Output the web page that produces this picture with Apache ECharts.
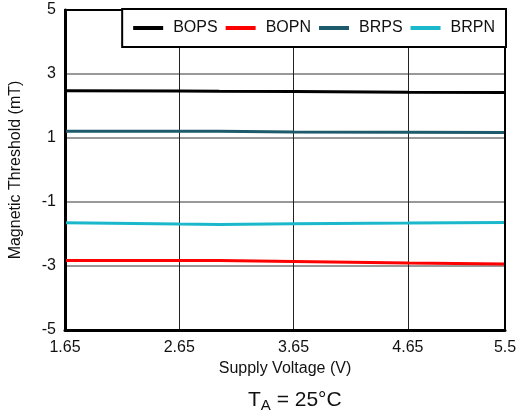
<!DOCTYPE html>
<html>
<head>
<meta charset="utf-8">
<script src="https://cdn.jsdelivr.net/npm/echarts@6/dist/echarts.min.js"></script>
<style>
html,body{margin:0;padding:0;background:#fff;}
#c{width:523px;height:416px;}
</style>
</head>
<body>
<div id="c"></div>
<script>
const voltage = [1.65, 2.65, 3.0, 3.65, 4.65, 5.5];
const xTicks = [1.65, 2.65, 3.65, 4.65, 5.5];
const seriesNames = ['BOPS', 'BOPN', 'BRPS', 'BRPN'];
const bops = [2.48, 2.47, 2.46, 2.45, 2.43, 2.42];
const bopn = [-2.83, -2.83, -2.83, -2.86, -2.91, -2.94];
const brps = [1.21, 1.21, 1.21, 1.19, 1.18, 1.17];
const brpn = [-1.65, -1.69, -1.70, -1.68, -1.66, -1.64];
const colors = ['#000000', '#ff0000', '#1d5a6b', '#1bb8cb'];

const values = [bops, bopn, brps, brpn];
const font = 'Liberation Sans, Arial, sans-serif';

const chart = echarts.init(document.getElementById('c'));
chart.setOption({
  animation: false,
  backgroundColor: '#fff',
  grid: { left: 65, right: 18, top: 10, bottom: 86, show: true, borderColor: '#000', borderWidth: 2, z: 5 },
  title: {
    text: '{t|T}{s|A}{t| = 25°C}',
    left: 243, top: 383,
    textStyle: {
      fontWeight: 'normal',
      rich: {
        t: { fontSize: 21, fontFamily: font, color: '#111', fontWeight: 'normal' },
        s: { fontSize: 15, fontFamily: font, color: '#111', fontWeight: 'normal', verticalAlign: 'bottom', padding: [10, 0, 0, 0] }
      }
    }
  },
  legend: {
    data: seriesNames,
    right: 17, top: 9,
    orient: 'horizontal',
    icon: 'rect',
    itemWidth: 30, itemHeight: 4, itemGap: 8,
    padding: [11, 11, 11, 11],
    backgroundColor: '#fff',
    borderColor: '#000', borderWidth: 2,
    textStyle: { fontSize: 16, fontFamily: font, color: '#111', lineHeight: 16, padding: [0, 0, 0, 5] },
    z: 10
  },
  xAxis: {
    type: 'value', min: 1.65, max: 5.5,
    name: 'Supply Voltage (V)', nameLocation: 'middle', nameGap: 30,
    nameTextStyle: { fontSize: 16, fontFamily: font, color: '#111' },
    axisLine: { show: true, onZero: false, lineStyle: { color: '#000', width: 3 } },
    axisTick: { show: false, customValues: xTicks },
    axisLabel: { customValues: xTicks, fontSize: 16, fontFamily: font, color: '#111', margin: 10,
      formatter: v => String(v) },
    splitLine: { show: true, lineStyle: { color: '#222', width: 1 } }
  },
  yAxis: {
    type: 'value', min: -5, max: 5, interval: 2,
    name: 'Magnetic Threshold (mT)', nameLocation: 'middle', nameGap: 41,
    nameTextStyle: { fontSize: 16, fontFamily: font, color: '#111' },
    axisLine: { show: true, onZero: false, lineStyle: { color: '#000', width: 3 } },
    axisTick: { show: false },
    axisLabel: { fontSize: 16, fontFamily: font, color: '#111', margin: 9 },
    splitLine: { show: true, lineStyle: { color: '#777', width: 1.5 } }
  },
  series: seriesNames.map((n, i) => ({
    name: n, type: 'line', symbol: 'none', smooth: false,
    data: voltage.map((x, j) => [x, values[i][j]]),
    lineStyle: { color: colors[i], width: 3 },
    itemStyle: { color: colors[i] },
    z: 3
  }))
});
</script>
</body>
</html>
